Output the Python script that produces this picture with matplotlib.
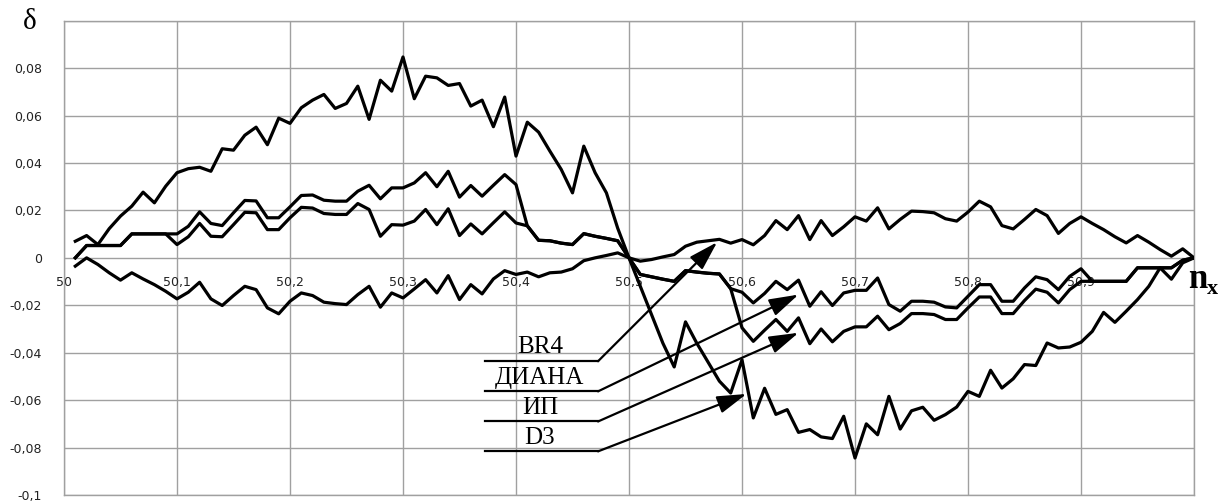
import numpy as np
import matplotlib
matplotlib.use('Agg')
import matplotlib.pyplot as plt

# n_x от 50,01 до 51,00 с шагом 0,01
nx = np.round(np.arange(50.01, 51.0001, 0.01), 2)

d3 = [0.007, 0.0094, 0.0056, 0.0123, 0.0176, 0.0218, 0.0277, 0.0232, 0.0302, 0.0359,
      0.0376, 0.0382, 0.0365, 0.046, 0.0454, 0.0517, 0.0551, 0.0477, 0.0589, 0.0567,
      0.0633, 0.0665, 0.0689, 0.063, 0.0651, 0.0724, 0.0584, 0.0749, 0.0703, 0.0847,
      0.0671, 0.0766, 0.0759, 0.0727, 0.0735, 0.064, 0.0665, 0.0553, 0.0678, 0.0429,
      0.0572, 0.053, 0.045, 0.0373, 0.0274, 0.0471, 0.0359, 0.0274, 0.0125, 0.0,
      -0.012, -0.024, -0.036, -0.046, -0.027, -0.036, -0.044, -0.052, -0.057, -0.043,
      -0.0675, -0.055, -0.066, -0.064, -0.0736, -0.0724, -0.0755, -0.0762, -0.0668, -0.0844,
      -0.070, -0.0746, -0.0584, -0.0722, -0.0645, -0.063, -0.0685, -0.0661, -0.0629, -0.0563,
      -0.0584, -0.0474, -0.0549, -0.051, -0.045, -0.0454, -0.0359, -0.038, -0.0376, -0.0356,
      -0.031, -0.023, -0.0272, -0.0225, -0.0176, -0.012, -0.0042, -0.009, -0.0021, 0.0]

diana = [0.0, 0.0052, 0.0052, 0.0052, 0.0052, 0.0101, 0.0101, 0.0101, 0.0101, 0.0101,
         0.0133, 0.0194, 0.0145, 0.0136, 0.019, 0.0242, 0.024, 0.0169, 0.0169, 0.0215,
         0.0263, 0.0265, 0.0243, 0.0239, 0.0239, 0.0281, 0.0306, 0.0249, 0.0295, 0.0295,
         0.0316, 0.0359, 0.03, 0.0365, 0.0256, 0.0305, 0.026, 0.0306, 0.0351, 0.0309,
         0.0135, 0.0074, 0.0072, 0.0062, 0.0056, 0.0102, 0.0091, 0.0082, 0.0072, 0.0,
         -0.007, -0.008, -0.009, -0.0099, -0.0054, -0.006, -0.0065, -0.0068, -0.013, -0.0145,
         -0.019, -0.015, -0.0099, -0.0134, -0.0094, -0.0204, -0.0143, -0.0201, -0.0148, -0.0137,
         -0.0137, -0.0085, -0.0197, -0.0225, -0.0183, -0.0183, -0.0187, -0.0207, -0.0211, -0.0162,
         -0.0113, -0.0113, -0.0183, -0.0183, -0.0127, -0.008, -0.0092, -0.0134, -0.0078, -0.0046,
         -0.0099, -0.0099, -0.0099, -0.0099, -0.0042, -0.0042, -0.0042, -0.0042, -0.001, 0.0]

ip = [0.0, 0.0052, 0.0052, 0.0052, 0.0052, 0.0101, 0.0101, 0.0101, 0.0101, 0.0056,
      0.0089, 0.0145, 0.0091, 0.0089, 0.014, 0.0192, 0.019, 0.0119, 0.0119, 0.0169,
      0.0213, 0.021, 0.0187, 0.0183, 0.0183, 0.0229, 0.0204, 0.0091, 0.014, 0.0138,
      0.0155, 0.0204, 0.014, 0.0207, 0.0094, 0.0143, 0.0101, 0.0148, 0.0194, 0.0147,
      0.0135, 0.0074, 0.0072, 0.0062, 0.0056, 0.0102, 0.0091, 0.0082, 0.0072, 0.0,
      -0.007, -0.008, -0.009, -0.0099, -0.0054, -0.006, -0.0065, -0.0068, -0.013, -0.0295,
      -0.0352, -0.0305, -0.026, -0.031, -0.0253, -0.0362, -0.030, -0.0354, -0.031, -0.0291,
      -0.0291, -0.0246, -0.0303, -0.0277, -0.0235, -0.0235, -0.0239, -0.026, -0.026, -0.0211,
      -0.0165, -0.0165, -0.0235, -0.0235, -0.018, -0.0132, -0.0145, -0.019, -0.0134, -0.0099,
      -0.0099, -0.0099, -0.0099, -0.0099, -0.0042, -0.0042, -0.0042, -0.0042, -0.001, 0.0]

br4 = [-0.0035, 0.0, -0.0028, -0.0063, -0.0094, -0.0063, -0.0089, -0.0113, -0.0141, -0.0173,
       -0.0145, -0.0103, -0.0173, -0.0201, -0.0159, -0.012, -0.0134, -0.0211, -0.0236, -0.0183,
       -0.0148, -0.0159, -0.0187, -0.0193, -0.0197, -0.0155, -0.012, -0.0208, -0.0148, -0.0169,
       -0.0131, -0.0092, -0.0148, -0.0075, -0.0176, -0.0113, -0.0152, -0.0089, -0.0054, -0.007,
       -0.006, -0.008, -0.0063, -0.006, -0.0046, -0.0012, 0.0, 0.001, 0.0021, 0.0,
       -0.0014, -0.0007, 0.0004, 0.0014, 0.0049, 0.0066, 0.0072, 0.0078, 0.0062, 0.0077,
       0.0055, 0.0094, 0.0157, 0.0119, 0.0178, 0.0077, 0.0157, 0.0094, 0.0131, 0.0173,
       0.0155, 0.0211, 0.0122, 0.0162, 0.0197, 0.0195, 0.019, 0.0165, 0.0155, 0.0193,
       0.0239, 0.0215, 0.0136, 0.0122, 0.0162, 0.0204, 0.0178, 0.0103, 0.0145, 0.0173,
       0.0145, 0.0119, 0.0089, 0.0063, 0.0094, 0.0066, 0.0035, 0.0007, 0.0038, 0.0]

x_ticks = [50.0, 50.1, 50.2, 50.3, 50.4, 50.5, 50.6, 50.7, 50.8, 50.9, 51.0]
x_labels = ['50', '50,1', '50,2', '50,3', '50,4', '50,5', '50,6', '50,7', '50,8', '50,9', '']
y_ticks = [-0.1, -0.08, -0.06, -0.04, -0.02, 0.0, 0.02, 0.04, 0.06, 0.08, 0.1]
y_labels = ['-0,1', '-0,08', '-0,06', '-0,04', '-0,02', '0', '0,02', '0,04', '0,06', '0,08', '']

# подписи: текст, начало полки, излом, конец стрелки
names = ['BR4', 'ДИАНА', 'ИП', 'D3']
shelf_y = [-0.0436, -0.0563, -0.069, -0.0816]
shelf_x0, shelf_x1 = 50.3726, 50.4726
tips = [(50.578, 0.0066), (50.650, -0.0155), (50.650, -0.0316), (50.604, -0.0574)]

fig = plt.figure(figsize=(12.2, 5.01), dpi=100)
ax = fig.add_axes([0.05246, 0.01198, 0.92623, 0.94671])

for s in (d3, diana, ip, br4):
    ax.plot(nx, s, color='black', lw=2.3, solid_joinstyle='round', zorder=3)

ax.set_xlim(50, 51)
ax.set_ylim(-0.1, 0.1)
ax.set_xticks(x_ticks)
ax.set_xticklabels([])
ax.set_yticks(y_ticks)
ax.set_yticklabels(y_labels, fontsize=9, color='#222222')
ax.tick_params(length=0)
ax.tick_params(axis='y', pad=16)
ax.grid(True, color='#a0a0a0', lw=1.0)
ax.set_axisbelow(True)
for sp in ax.spines.values():
    sp.set_color('#a0a0a0')
    sp.set_linewidth(1.0)

# подписи оси x проходят по нулевой линии
for xv, lbl in zip(x_ticks, x_labels):
    ax.annotate(lbl, (xv, 0), xytext=(0, -18), textcoords='offset points',
                ha='center', va='center', fontsize=9, color='#222222', zorder=2)

for name, sy, tip in zip(names, shelf_y, tips):
    ax.plot([shelf_x0, shelf_x1], [sy, sy], color='black', lw=1.6, zorder=4)
    ax.annotate('', xy=tip, xytext=(shelf_x1, sy),
                arrowprops=dict(arrowstyle='-|>,head_length=1.0,head_width=0.3',
                                mutation_scale=18, color='black', lw=1.6,
                                shrinkA=0, shrinkB=0), zorder=4)
    ax.annotate(name, ((shelf_x0 + shelf_x1) / 2 - 0.0015, sy), xytext=(0, 2),
                textcoords='offset points', ha='center', va='bottom',
                fontsize=18, family='Liberation Serif', zorder=5)

fig.text(29.5 / 1220, 1 - 22 / 501, 'δ', fontsize=21, family='Liberation Serif',
         ha='center', va='center')
fig.text(1188 / 1220, 1 - 288 / 501, 'n', fontsize=25, family='Liberation Serif',
         weight='bold', ha='left', va='baseline')
fig.text(1207 / 1220, 1 - 294 / 501, 'x', fontsize=16, family='Liberation Serif',
         weight='bold', ha='left', va='baseline')

fig.savefig('out.png', dpi=100)
